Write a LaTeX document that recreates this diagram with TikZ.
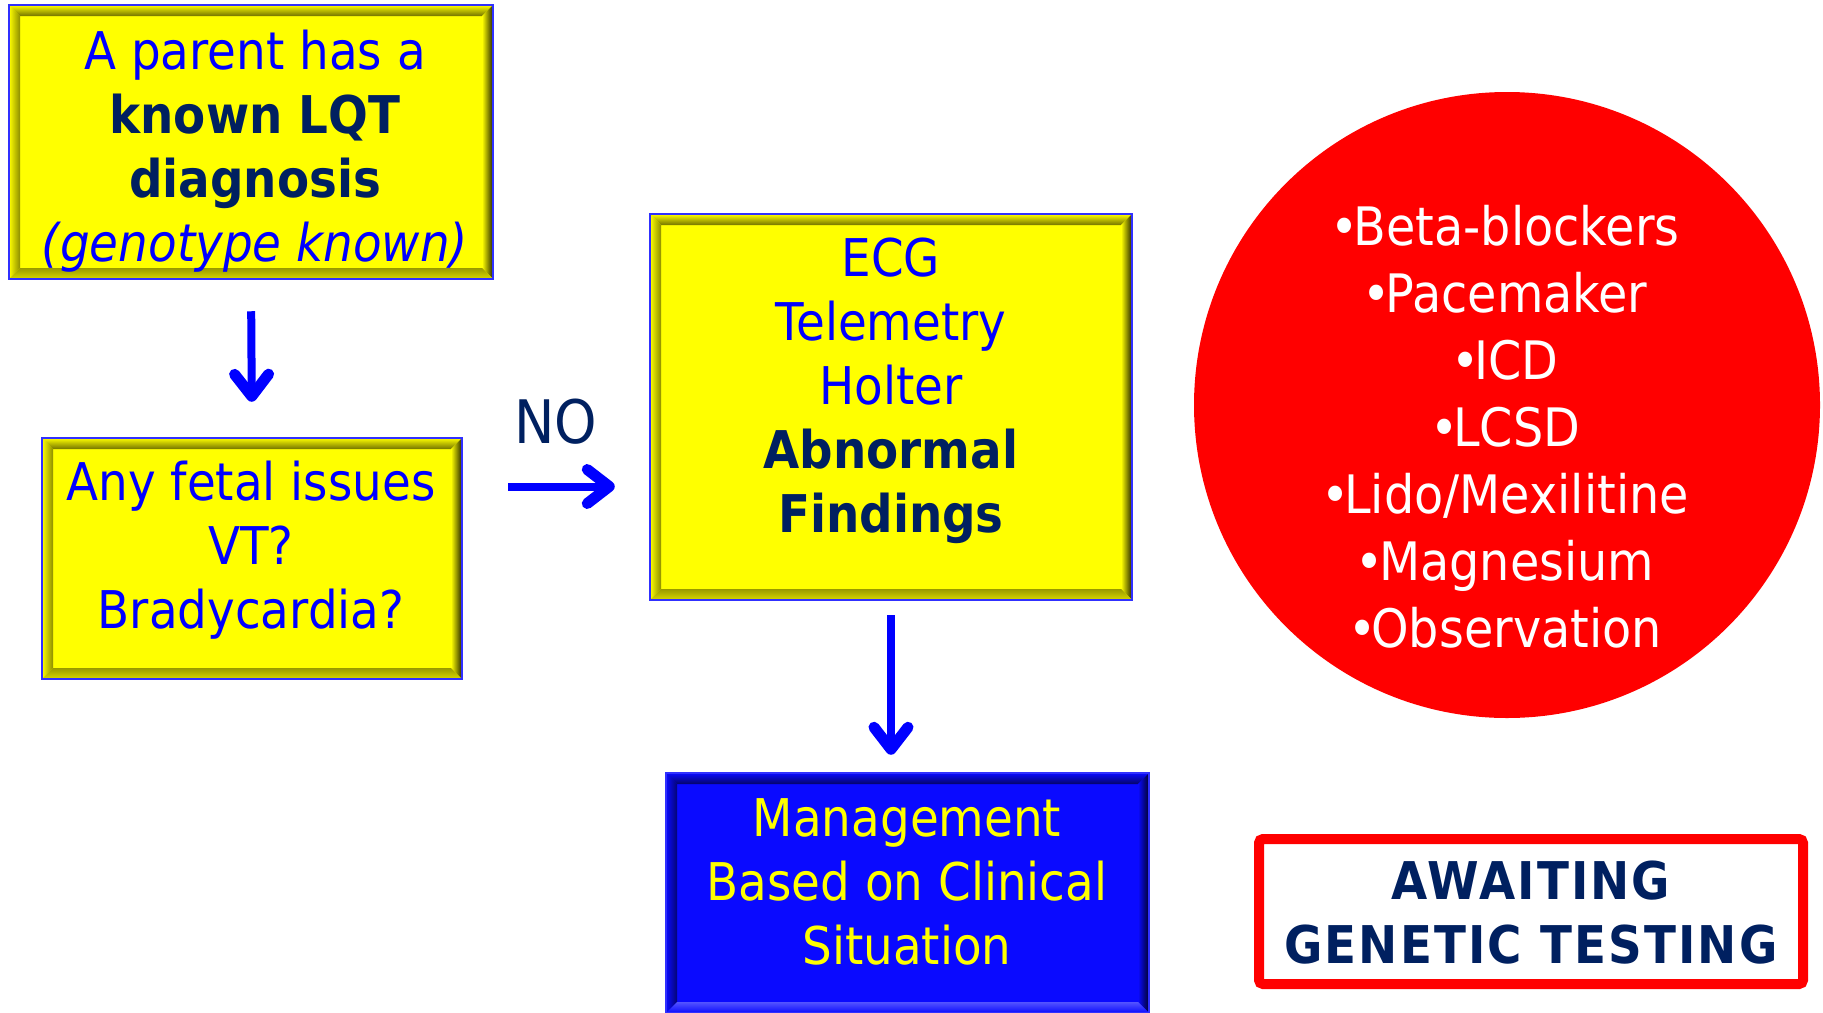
\documentclass[tikz,border=0pt]{standalone}
\usepackage{fontspec}
\setmainfont[FakeStretch=0.9]{DejaVu Sans}
\usetikzlibrary{arrows.meta,calc}
\definecolor{ylw}{HTML}{FFFF00}
\definecolor{tblue}{HTML}{0000FF}
\definecolor{navy}{HTML}{002060}
\definecolor{bbord}{HTML}{3030FF}
\definecolor{boxblue}{HTML}{0A0AFF}
\definecolor{cred}{HTML}{FF0000}
\newcommand\bevel[4]{%
  \coordinate (pNW) at (path picture bounding box.north west);
  \coordinate (pNE) at (path picture bounding box.north east);
  \coordinate (pSW) at (path picture bounding box.south west);
  \coordinate (pSE) at (path picture bounding box.south east);
  \coordinate (qNW) at ([shift={(11,11)}]pNW);
  \coordinate (qNE) at ([shift={(-11,11)}]pNE);
  \coordinate (qSW) at ([shift={(11,-11)}]pSW);
  \coordinate (qSE) at ([shift={(-11,-11)}]pSE);
  \shade[#1] (pNW)--(pNE)--(qNE)--(qNW)--cycle;
  \shade[#2] (pNW)--(qNW)--(qSW)--(pSW)--cycle;
  \shade[#3] (pNE)--(pSE)--(qSE)--(qNE)--cycle;
  \shade[#4] (pSW)--(pSE)--(qSE)--(qSW)--cycle;
}
\newcommand\bul{•\kern-5pt}
\tikzset{
  ybox/.style={draw=bbord, line width=2.5pt, fill=ylw, inner sep=0pt,
    path picture={\bevel{top color=ylw, bottom color=ylw!45!black}
                        {left color=ylw, right color=ylw!55!black}
                        {left color=ylw, right color=ylw!15!black}
                        {top color=ylw!60!black, bottom color=ylw!85!black}}},
  bbox/.style={draw=bbord, line width=2.5pt, fill=boxblue, inner sep=0pt,
    path picture={\bevel{top color=boxblue, bottom color=boxblue!40!black}
                        {left color=boxblue, right color=boxblue!45!black}
                        {left color=boxblue, right color=boxblue!15!black}
                        {top color=boxblue!70!white, bottom color=boxblue}}},
  txt/.style={align=center, inner sep=0pt, font=\fontsize{52}{64}\selectfont},
  arr/.style={draw=tblue, line width=8pt,
    -{Straight Barb[length=22pt, width=34pt, line width=11pt, round]}},
}
\begin{document}
\begin{tikzpicture}[x=1pt, y=-1pt]
\useasboundingbox (0,0) rectangle (1823,1012);
\fill[white] (0,0) rectangle (1823,1012);

% boxes
\node[ybox, minimum width=484pt, minimum height=274pt] (b1) at (251,142) {};
\node[ybox, minimum width=420pt, minimum height=241pt] (b2) at (252,558.5) {};
\node[ybox, minimum width=482pt, minimum height=386pt] (b3) at (891,407) {};
\node[bbox, minimum width=483pt, minimum height=240pt] (b4) at (907.5,893) {};
\node[circle, fill=cred, minimum size=626pt, inner sep=0pt] (circ) at (1507,405) {};
\node[draw=cred, line width=10pt, rounded corners=4pt, minimum width=544pt, minimum height=145pt, inner sep=0pt] (await) at (1531,911.5) {};

% texts
\node[txt, text=tblue] (t1) at (255,151.6) {A parent has a\\
  \textbf{\color{navy}known LQT}\\
  \textbf{\color{navy}diagnosis}\\
  \textit{(genotype known)}};
\node[txt, text=tblue] (t2) at (251,550.6) {Any fetal issues\\ VT?\\ Bradycardia?};
\node[txt, text=tblue] (t3) at (891,391) {ECG\\ Telemetry\\ Holter\\
  \textbf{\color{navy}Abnormal}\\ \textbf{\color{navy}Findings}};
\node[txt, text=ylw] (t4) at (907,882) {Management\\ Based on Clinical\\ Situation};
\node[align=center, inner sep=0pt, text=white, font=\fontsize{53}{67}\selectfont] (t5) at (1505,426.5)
  {\bul Beta-blockers\\ \bul Pacemaker\\ \bul ICD\\ \bul LCSD\\ \bul Lido/Mexilitine\\ \bul Magnesium\\ \bul Observation};
\node[align=center, inner sep=0pt, text=navy, font=\fontsize{52}{64}\selectfont\bfseries\addfontfeature{LetterSpace=4}] (t6) at (1531,913)
  {AWAITING\\ GENETIC TESTING};

% connectors
\draw[arr, shorten <=31pt, shorten >=35pt] (b1.south) -- (b2.north);
\draw[arr, shorten <=45pt, shorten >=34pt] ([yshift=72pt]b2.east) -- ([yshift=72pt]b2.east -| b3.west)
  node[midway, above=38pt, inner sep=0pt, text=navy, font=\fontsize{60}{70}\selectfont] (no) {NO};
\draw[arr, shorten <=14pt, shorten >=17pt] (b3.south) -- (b3.south |- b4.north);
\end{tikzpicture}
\end{document}
